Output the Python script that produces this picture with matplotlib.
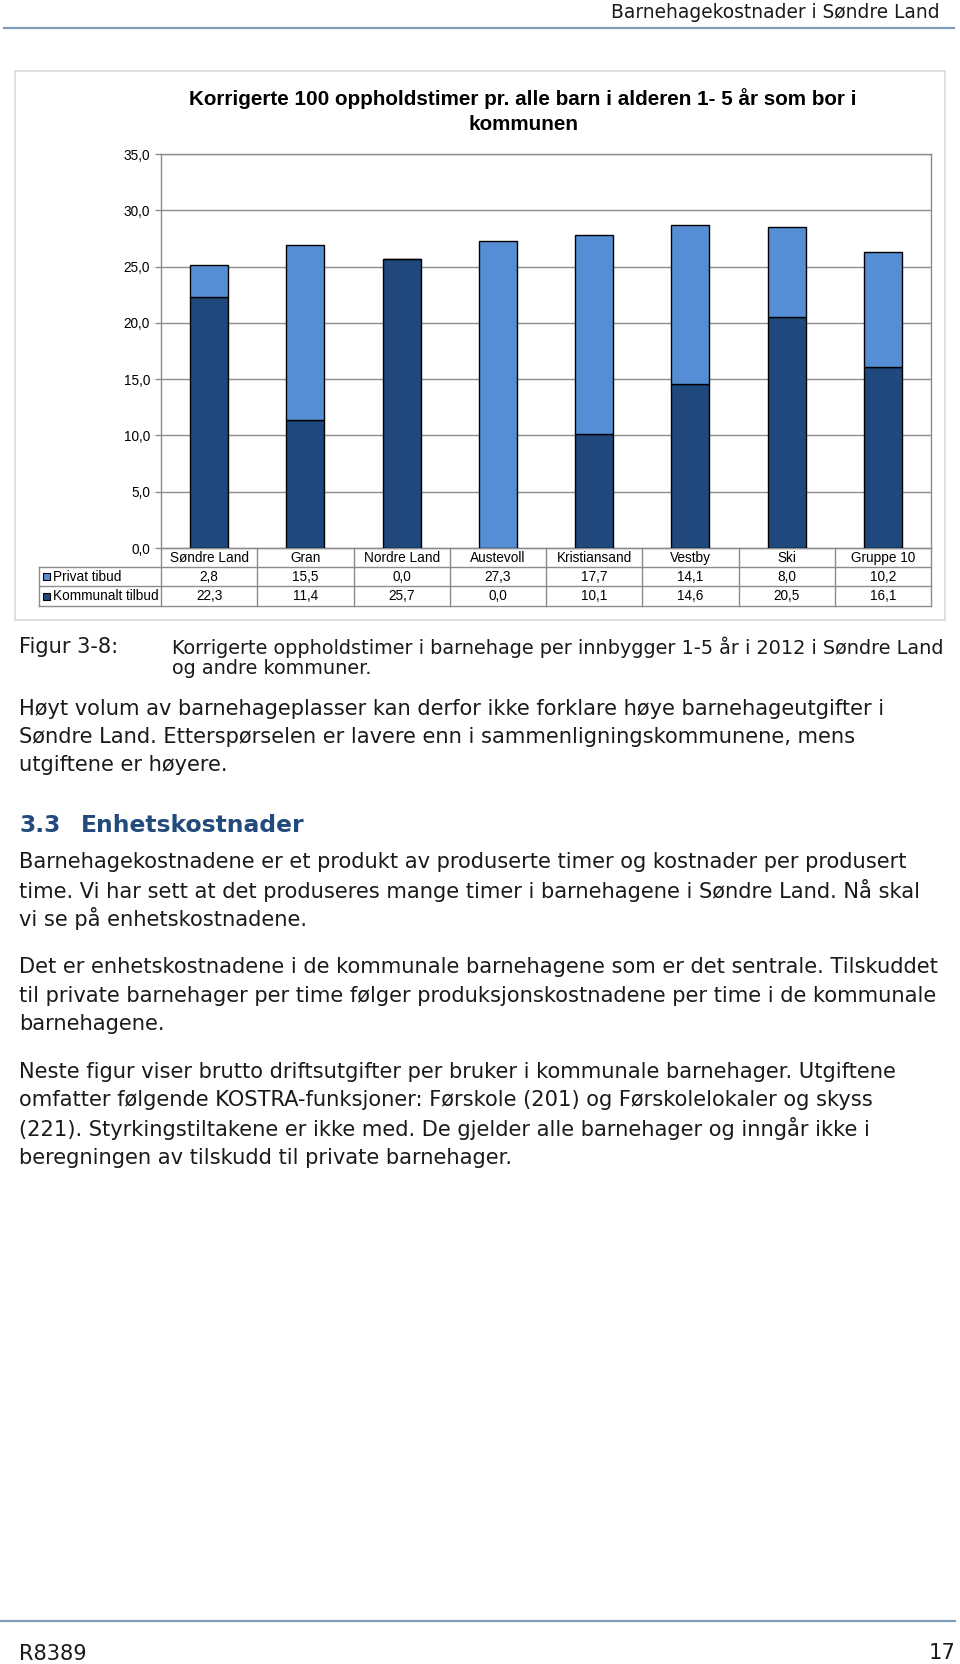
import matplotlib
matplotlib.use("Agg")
import matplotlib.pyplot as plt
import matplotlib.transforms as mtransforms
from matplotlib.patches import Rectangle
import numpy as np

# ---------------- data ----------------
categories = ["Søndre Land", "Gran", "Nordre Land", "Austevoll", "Kristiansand",
              "Vestby", "Ski", "Gruppe 10"]
privat = [2.8, 15.5, 0.0, 27.3, 17.7, 14.1, 8.0, 10.2]
kommunalt = [22.3, 11.4, 25.7, 0.0, 10.1, 14.6, 20.5, 16.1]
series_names = ["Privat tibud", "Kommunalt tilbud"]
yticks = [0, 5, 10, 15, 20, 25, 30, 35]
chart_title = "Korrigerte 100 oppholdstimer pr. alle barn i alderen 1- 5 år som bor i\nkommunen"

header_text = "Barnehagekostnader i Søndre Land"
caption_label = "Figur 3-8:"
caption_lines = ["Korrigerte oppholdstimer i barnehage per innbygger 1-5 år i 2012 i Søndre Land",
                 "og andre kommuner."]
para1 = ["Høyt volum av barnehageplasser kan derfor ikke forklare høye barnehageutgifter i",
         "Søndre Land. Etterspørselen er lavere enn i sammenligningskommunene, mens",
         "utgiftene er høyere."]
heading_num = "3.3"
heading_txt = "Enhetskostnader"
para2 = ["Barnehagekostnadene er et produkt av produserte timer og kostnader per produsert",
         "time. Vi har sett at det produseres mange timer i barnehagene i Søndre Land. Nå skal",
         "vi se på enhetskostnadene."]
para3 = ["Det er enhetskostnadene i de kommunale barnehagene som er det sentrale. Tilskuddet",
         "til private barnehager per time følger produksjonskostnadene per time i de kommunale",
         "barnehagene."]
para4 = ["Neste figur viser brutto driftsutgifter per bruker i kommunale barnehager. Utgiftene",
         "omfatter følgende KOSTRA-funksjoner: Førskole (201) og Førskolelokaler og skyss",
         "(221). Styrkingstiltakene er ikke med. De gjelder alle barnehager og inngår ikke i",
         "beregningen av tilskudd til private barnehager."]
footer_left = "R8389"
footer_right = "17"

# ---------------- style ----------------
DARK = "#1F497D"
LIGHT = "#558ED5"
GRID = "#8C8C8C"
TEXT = "#1a1a1a"
HEAD_BLUE = "#234a7c"
W, H = 960, 1664

fig = plt.figure(figsize=(W / 100, H / 100), dpi=100)
fig.patch.set_facecolor("white")

page = fig.add_axes([0, 0, 1, 1])
page.set_xlim(0, W)
page.set_ylim(H, 0)
page.axis("off")

renderer = fig.canvas.get_renderer()


def fit(t, target_w):
    bb = t.get_window_extent(renderer)
    t.set_fontsize(t.get_fontsize() * target_w / bb.width)
    return t.get_fontsize()


# header
t = page.text(940, 12, header_text, ha="right", va="center", family="DejaVu Sans",
              fontsize=12, color=TEXT)
fit(t, 327)
page.plot([4, 954], [28, 28], color="#7f9cb8", lw=1.6)

# chart frame
page.add_patch(Rectangle((15, 71), 930, 549, fill=False, ec="#d9d9d9", lw=1.2))

# chart title
tt = page.text(523, 111, chart_title, ha="center", va="center", family="Liberation Sans",
               fontweight="bold", fontsize=12, color="black", linespacing=1.4)
l1 = page.text(0, 0, chart_title.split("\n")[0], family="Liberation Sans",
               fontweight="bold", fontsize=12)
s = fit(l1, 664)
l1.remove()
tt.set_fontsize(s)

# ---------------- chart axes ----------------
ax_l, ax_r, ax_t, ax_b = 161, 931, 154, 548
ax = fig.add_axes([ax_l / W, 1 - ax_b / H, (ax_r - ax_l) / W, (ax_b - ax_t) / H])
x = np.arange(len(categories))
bw = 0.395
ax.bar(x, kommunalt, width=bw, color=DARK, edgecolor="black", lw=1.0, zorder=3)
ax.bar(x, privat, bottom=kommunalt, width=bw, color=LIGHT, edgecolor="black", lw=1.0, zorder=3)
ax.set_xlim(-0.5, len(categories) - 0.5)
ax.set_ylim(0, 35)
ax.set_yticks(yticks)
ax.set_yticklabels([f"{v:.1f}".replace(".", ",") for v in yticks],
                   family="Liberation Sans", fontsize=9.8, color="black")
ax.set_xticks([])
ax.yaxis.grid(True, color=GRID, lw=1.0, zorder=0)
ax.set_axisbelow(True)
for sp in ax.spines.values():
    sp.set_color(GRID)
    sp.set_linewidth(1.0)
ax.tick_params(axis="y", length=4, width=1.0, color=GRID, pad=4)

# ---------------- data table ----------------
tr = mtransforms.blended_transform_factory(ax.transData, page.transData)
tbl_left = 39
rows_y = [548, 566.5, 586, 606]
LC = "#8C8C8C"
page.plot([ax_l, ax_r], [rows_y[0], rows_y[0]], color=LC, lw=1.0)
for yy in rows_y[1:]:
    page.plot([tbl_left, ax_r], [yy, yy], color=LC, lw=1.0)
page.plot([tbl_left, tbl_left], [rows_y[1], rows_y[3]], color=LC, lw=1.0)
for k in range(len(categories) + 1):
    ax.plot([k - 0.5, k - 0.5], [rows_y[0], rows_y[3]], color=LC, lw=1.0,
            transform=tr, clip_on=False)
tfont = dict(family="Liberation Sans", fontsize=9.8, color="black")
for i, c in enumerate(categories):
    ax.text(i, (rows_y[0] + rows_y[1]) / 2 + 0.5, c, ha="center", va="center",
            transform=tr, clip_on=False, **tfont)
    ax.text(i, (rows_y[1] + rows_y[2]) / 2 + 0.5, f"{privat[i]:.1f}".replace(".", ","),
            ha="center", va="center", transform=tr, clip_on=False, **tfont)
    ax.text(i, (rows_y[2] + rows_y[3]) / 2 + 0.5, f"{kommunalt[i]:.1f}".replace(".", ","),
            ha="center", va="center", transform=tr, clip_on=False, **tfont)
for j, (nm, col) in enumerate(zip(series_names, [LIGHT, DARK])):
    yc = (rows_y[j + 1] + rows_y[j + 2]) / 2
    page.add_patch(Rectangle((43, yc - 3.5), 7, 7, fc=col, ec="black", lw=0.8))
    page.text(53, yc + 0.5, nm, ha="left", va="center", **tfont)

# ---------------- body text ----------------
BODY = "DejaVu Sans"
ref = page.text(19, 709, para1[0], ha="left", va="center", family=BODY, fontsize=12, color=TEXT)
bs = fit(ref, 868)
ref.remove()


def body(xp, yp, s_, size=None):
    return page.text(xp, yp, s_, ha="left", va="center", family=BODY,
                     fontsize=size or bs, color=TEXT)


body(19, 647, caption_label)
cap0 = body(172, 647, caption_lines[0])
cs = fit(cap0, 768)
body(172, 669, caption_lines[1], size=cs)
for k, ln in enumerate(para1):
    body(19, 709 + 28 * k, ln)

hs = dict(ha="left", va="center", family="DejaVu Sans", fontweight="bold", color=HEAD_BLUE)
h1 = page.text(19, 825, heading_num, fontsize=18, **hs)
h2 = page.text(81, 825, heading_txt, fontsize=18, **hs)
hsz = fit(h2, 224)
h1.set_fontsize(hsz)

for k, ln in enumerate(para2):
    body(19, 862 + 28 * k, ln)
for k, ln in enumerate(para3):
    body(19, 967 + 28.5 * k, ln)
for k, ln in enumerate(para4):
    body(19, 1072 + 28.5 * k, ln)

# footer
page.plot([0, 955], [1621, 1621], color="#7f9cb8", lw=1.6)
page.text(19, 1654, footer_left, ha="left", va="center", family=BODY, fontsize=bs, color=TEXT)
page.text(956, 1653, footer_right, ha="right", va="center", family=BODY, fontsize=bs, color=TEXT)

fig.savefig("out.png", dpi=100, facecolor="white")
